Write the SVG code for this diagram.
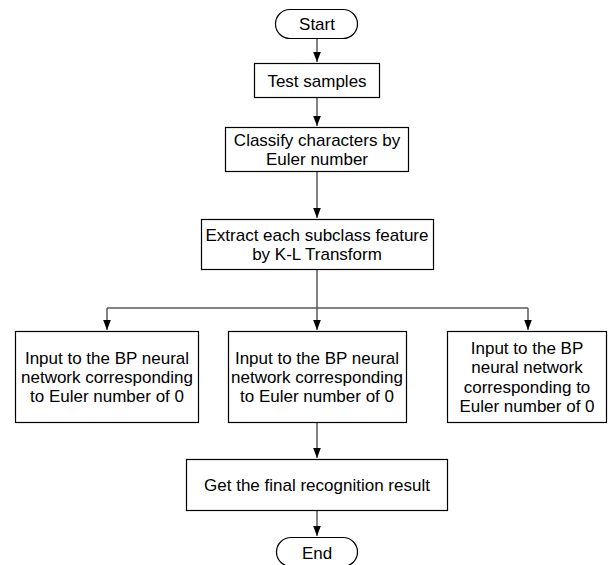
<svg xmlns="http://www.w3.org/2000/svg" width="608" height="565" viewBox="0 0 608 565">
<style>
.box{fill:#fff;stroke:#000;stroke-width:1.2}
.t{font-family:"Liberation Sans",Arial,sans-serif;font-size:17px;fill:#000;text-anchor:middle}
.c{fill:none;stroke:#5a5a5a;stroke-width:1.5}
</style>
<defs>
<marker id="ah" markerUnits="userSpaceOnUse" markerWidth="10" markerHeight="14" refX="13" refY="5" viewBox="0 0 13 10" orient="auto">
<path d="M0,0 L13,5 L0,10 Z" fill="#000"/>
</marker>
</defs>
<rect width="608" height="565" fill="#fff"/>
<g id="connectors">
<line class="c" x1="317" y1="38" x2="317" y2="62" marker-end="url(#ah)"/>
<line class="c" x1="317" y1="97" x2="317" y2="126" marker-end="url(#ah)"/>
<line class="c" x1="317" y1="171" x2="317" y2="218" marker-end="url(#ah)"/>
<line class="c" x1="317" y1="269" x2="317" y2="330" marker-end="url(#ah)"/>
<line class="c" x1="107" y1="308" x2="528" y2="308"/>
<line class="c" x1="107" y1="308" x2="107" y2="330" marker-end="url(#ah)"/>
<line class="c" x1="528" y1="308" x2="528" y2="330" marker-end="url(#ah)"/>
<line class="c" x1="317" y1="422" x2="317" y2="458" marker-end="url(#ah)"/>
<line class="c" x1="317" y1="510" x2="317" y2="536" marker-end="url(#ah)"/>
</g>
<g id="start">
<rect class="box" x="275.5" y="9.5" width="82" height="29" rx="14.5" ry="14.5"/>
<text class="t" x="317" y="29.5">Start</text>
</g>
<g id="test">
<rect class="box" x="254.5" y="63.5" width="125" height="34"/>
<text class="t" x="317" y="86.5">Test samples</text>
</g>
<g id="classify">
<rect class="box" x="225.5" y="127.5" width="183" height="44"/>
<text class="t" x="317" y="146">Classify characters by</text>
<text class="t" x="317" y="165">Euler number</text>
</g>
<g id="extract">
<rect class="box" x="201.5" y="219.5" width="232" height="50"/>
<text class="t" x="317" y="241">Extract each subclass feature</text>
<text class="t" x="317" y="260">by K-L Transform</text>
</g>
<g id="bp-left">
<rect class="box" x="15.5" y="331.5" width="183" height="91"/>
<text class="t" x="107" y="363.5">Input to the BP neural</text>
<text class="t" x="107" y="382.5">network corresponding</text>
<text class="t" x="107" y="401.5">to Euler number of 0</text>
</g>
<g id="bp-middle">
<rect class="box" x="228.5" y="331.5" width="178" height="91"/>
<text class="t" x="317" y="363.5">Input to the BP neural</text>
<text class="t" x="317" y="382.5">network corresponding</text>
<text class="t" x="317" y="401.5">to Euler number of 0</text>
</g>
<g id="bp-right">
<rect class="box" x="447.5" y="331.5" width="159" height="91"/>
<text class="t" x="527" y="353.5">Input to the BP</text>
<text class="t" x="527" y="373">neural network</text>
<text class="t" x="527" y="392.5">corresponding to</text>
<text class="t" x="527" y="412">Euler number of 0</text>
</g>
<g id="result">
<rect class="box" x="186.5" y="459.5" width="261" height="51"/>
<text class="t" x="317" y="491">Get the final recognition result</text>
</g>
<g id="end">
<rect class="box" x="276.5" y="537.5" width="81" height="29" rx="14.5" ry="14.5"/>
<text class="t" x="317" y="558.5">End</text>
</g>
</svg>
